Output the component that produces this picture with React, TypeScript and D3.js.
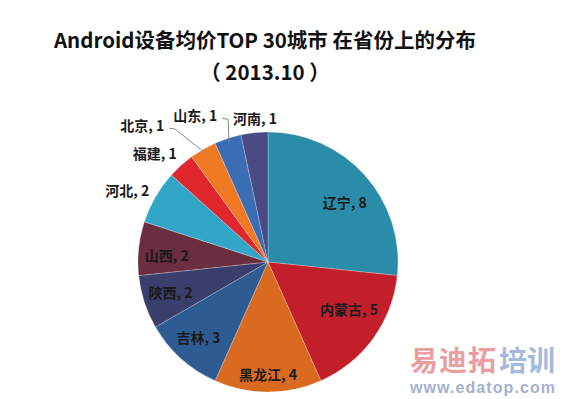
import React from "react";
import * as d3 from "d3";

const categories = ["辽宁", "内蒙古", "黑龙江", "吉林", "陕西", "山西", "河北", "福建", "北京", "山东", "河南"];
const values = [8, 5, 4, 3, 2, 2, 2, 1, 1, 1, 1];
const colors = ["#2B8CA9", "#C21F2A", "#DA6A1F", "#2F5B93", "#3A3E6C", "#6A2E3E", "#32A6C7", "#E0262D", "#F07A24", "#3A6DB3", "#4A4A85"];
const titleLines = ["Android设备均价TOP 30城市 在省份上的分布", "（ 2013.10 ）"];

const W = 562;
const H = 399;
const cx = 268;
const cy = 262;
const R = 130;

// label placement: [angle nudge in degrees, radius factor]
const labelPlace: [number, number][] = [
  [4, 0.75],
  [-6, 0.72],
  [0, 0.86],
  [1, 0.785],
  [1, 0.785],
  [-2, 0.78],
  [-3, 1.215],
  [-4, 1.21],
  [-12.6, 1.43],
  [-8.4, 1.26],
  [0.8, 1.11],
];

const FONT = "'Noto Sans CJK SC', 'Noto Sans', sans-serif";

export default function App() {
  const pie = d3.pie<number>().sort(null).value((d) => d);
  const arcs = pie(values);
  const arcGen = d3.arc<d3.PieArcDatum<number>>().innerRadius(0).outerRadius(R);
  const polar = (deg: number, r: number): [number, number] => {
    const a = (deg * Math.PI) / 180;
    return [cx + r * Math.sin(a), cy - r * Math.cos(a)];
  };
  const midDeg = (a: d3.PieArcDatum<number>) => (((a.startAngle + a.endAngle) / 2) * 180) / Math.PI;

  const leaders = [8, 9].map((i) => {
    const [lx, ly] = polar(midDeg(arcs[i]) + labelPlace[i][0], R * labelPlace[i][1]);
    const [ex, ey] = polar(midDeg(arcs[i]), R * 0.97);
    const sx = lx + 27;
    const sy = ly + 3;
    return `M${sx},${sy}L${sx + 6},${sy + 1}L${ex},${ey}`;
  });

  return (
    <svg width={W} height={H} style={{ position: "absolute", left: 0, top: 0, background: "#fff" }}>
      <text x={265} y={48} textAnchor="middle" fontFamily={FONT} fontWeight="bold" fontSize={20.5} fill="#111">
        {titleLines[0]}
      </text>
      <text x={265} y={80} textAnchor="middle" fontFamily={FONT} fontWeight="bold" fontSize={20.5} fill="#111">
        {titleLines[1]}
      </text>
      <g transform={`translate(${cx},${cy})`}>
        {arcs.map((a, i) => (
          <path key={i} d={arcGen(a) || ""} fill={colors[i]} stroke="#ffffff" strokeOpacity={0.35} strokeWidth={0.7} />
        ))}
      </g>
      {leaders.map((d, i) => (
        <path key={i} d={d} fill="none" stroke="#8a8a8a" strokeWidth={1} />
      ))}
      {arcs.map((a, i) => {
        const [x, y] = polar(midDeg(a) + labelPlace[i][0], R * labelPlace[i][1]);
        return (
          <text
            key={i}
            x={x}
            y={y}
            textAnchor="middle"
            dominantBaseline="central"
            fontFamily={FONT}
            fontWeight="bold"
            fontSize={14}
            fill="#1a1a1a"
          >
            {`${categories[i]}, ${values[i]}`}
          </text>
        );
      })}
      <g opacity={0.75}>
        <text x={410} y={371} fontFamily={FONT} fontWeight="bold" fontSize={28} fill="#E57E84" textLength={86}>
          易迪拓
        </text>
        <text x={499} y={371} fontFamily={FONT} fontWeight="bold" fontSize={28} fill="#86A2CF" textLength={56}>
          培训
        </text>
        <text x={410} y={393} fontFamily="'Liberation Sans', Arial, sans-serif" fontWeight="bold" fontSize={16} fill="#8597C2" textLength={145}>
          www.edatop.com
        </text>
      </g>
    </svg>
  );
}
